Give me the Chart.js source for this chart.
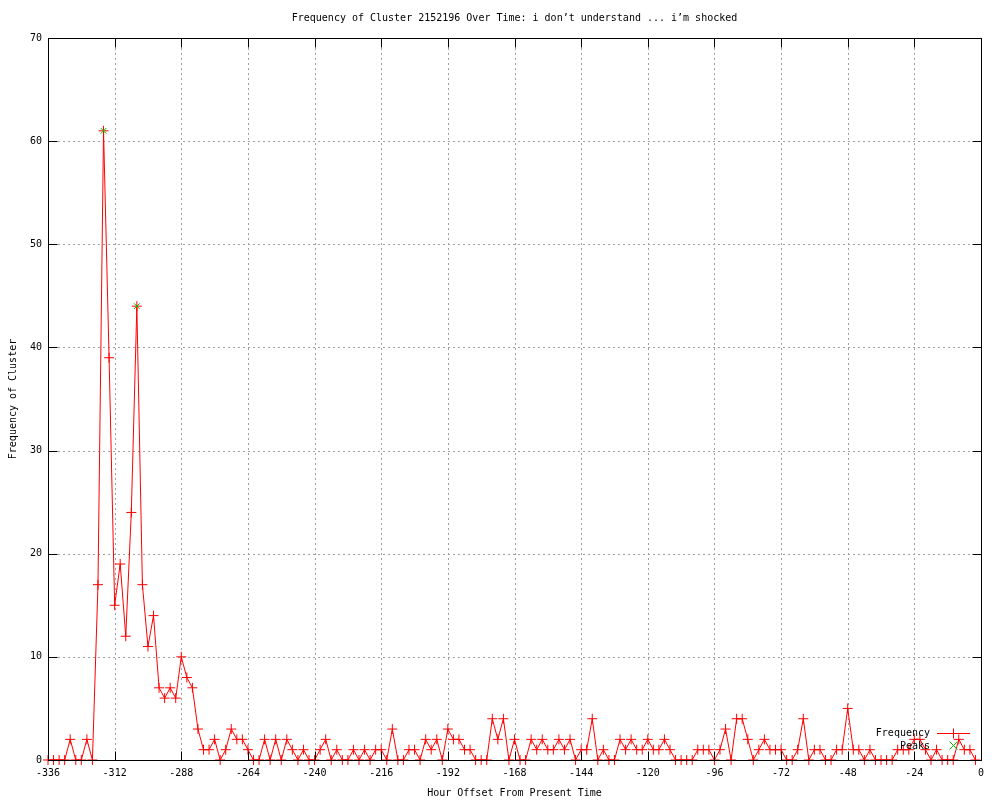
<!DOCTYPE html>
<html>
<head>
<meta charset="utf-8">
<title>Frequency of Cluster 2152196</title>
<script src="https://cdn.jsdelivr.net/npm/chart.js@4.4.0/dist/chart.umd.min.js"></script>
<style>
  html, body { margin: 0; padding: 0; background: #fff; }
  #wrap { width: 1000px; height: 800px; position: relative; }
</style>
</head>
<body>
<div id="wrap"><canvas id="freqChart" width="1000" height="800"></canvas></div>
<script>
/* gnuplot-style frequency plot */

var FONT = 'DejaVu Sans Mono';

var hours = [
  -336, -334, -332, -330, -328, -326, -324, -322, -320, -318,
  -316, -314, -312, -310, -308, -306, -304, -302, -300, -298,
  -296, -294, -292, -290, -288, -286, -284, -282, -280, -278,
  -276, -274, -272, -270, -268, -266, -264, -262, -260, -258,
  -256, -254, -252, -250, -248, -246, -244, -242, -240, -238,
  -236, -234, -232, -230, -228, -226, -224, -222, -220, -218,
  -216, -214, -212, -210, -208, -206, -204, -202, -200, -198,
  -196, -194, -192, -190, -188, -186, -184, -182, -180, -178,
  -176, -174, -172, -170, -168, -166, -164, -162, -160, -158,
  -156, -154, -152, -150, -148, -146, -144, -142, -140, -138,
  -136, -134, -132, -130, -128, -126, -124, -122, -120, -118,
  -116, -114, -112, -110, -108, -106, -104, -102, -100, -98,
  -96, -94, -92, -90, -88, -86, -84, -82, -80, -78,
  -76, -74, -72, -70, -68, -66, -64, -62, -60, -58,
  -56, -54, -52, -50, -48, -46, -44, -42, -40, -38,
  -36, -34, -32, -30, -28, -26, -24, -22, -20, -18,
  -16, -14, -12, -10, -8, -6, -4, -2
];

var frequency = [
  0, 0, 0, 0, 2, 0, 0, 2, 0, 17,
  61, 39, 15, 19, 12, 24, 44, 17, 11, 14,
  7, 6, 7, 6, 10, 8, 7, 3, 1, 1,
  2, 0, 1, 3, 2, 2, 1, 0, 0, 2,
  0, 2, 0, 2, 1, 0, 1, 0, 0, 1,
  2, 0, 1, 0, 0, 1, 0, 1, 0, 1,
  1, 0, 3, 0, 0, 1, 1, 0, 2, 1,
  2, 0, 3, 2, 2, 1, 1, 0, 0, 0,
  4, 2, 4, 0, 2, 0, 0, 2, 1, 2,
  1, 1, 2, 1, 2, 0, 1, 1, 4, 0,
  1, 0, 0, 2, 1, 2, 1, 1, 2, 1,
  1, 2, 1, 0, 0, 0, 0, 1, 1, 1,
  0, 1, 3, 0, 4, 4, 2, 0, 1, 2,
  1, 1, 1, 0, 0, 1, 4, 0, 1, 1,
  0, 0, 1, 1, 5, 1, 1, 0, 1, 0,
  0, 0, 0, 1, 1, 1, 2, 2, 1, 0,
  1, 0, 0, 0, 2, 1, 1, 0
];

var peakHours = [-316, -304];
var peakValues = [61, 44];

var xTicks = [-336, -312, -288, -264, -240, -216, -192, -168, -144, -120, -96, -72, -48, -24, 0];
var yTicks = [0, 10, 20, 30, 40, 50, 60, 70];

var chartTitle = 'Frequency of Cluster 2152196 Over Time: i don\u2019t understand ... i\u2019m shocked';
var xTitle = 'Hour Offset From Present Time';
var yTitle = 'Frequency of Cluster';

var RED = '#ff0000';
var GREEN = '#00c000';

function toPoints(xs, ys) {
  return xs.map(function (x, i) { return { x: x, y: ys[i] }; });
}

function drawPlus(ctx, x, y, r) {
  ctx.beginPath();
  ctx.moveTo(x - r, y); ctx.lineTo(x + r, y);
  ctx.moveTo(x, y - r); ctx.lineTo(x, y + r);
  ctx.stroke();
}

function drawX(ctx, x, y, r) {
  ctx.beginPath();
  ctx.moveTo(x - r, y - r); ctx.lineTo(x + r, y + r);
  ctx.moveTo(x - r, y + r); ctx.lineTo(x + r, y - r);
  ctx.stroke();
}

// grid, frame, mirrored ticks, titles and key in gnuplot fashion
var gnuplotFrame = {
  id: 'gnuplotFrame',
  beforeDatasetsDraw: function (chart) {
    var ctx = chart.ctx, a = chart.chartArea;
    var xs = chart.scales.x, ys = chart.scales.y;
    ctx.save();
    ctx.strokeStyle = '#a0a0a0';
    ctx.lineWidth = 1;
    ctx.setLineDash([2, 3]);
    xTicks.forEach(function (t) {
      var px = Math.round(xs.getPixelForValue(t)) + 0.5;
      if (px <= a.left + 1 || px >= a.right - 1) return;
      ctx.beginPath(); ctx.moveTo(px, a.top); ctx.lineTo(px, a.bottom); ctx.stroke();
    });
    yTicks.forEach(function (t) {
      var py = Math.round(ys.getPixelForValue(t)) + 0.5;
      if (py <= a.top + 1 || py >= a.bottom - 1) return;
      ctx.beginPath(); ctx.moveTo(a.left, py); ctx.lineTo(a.right, py); ctx.stroke();
    });
    ctx.restore();
  },
  afterDatasetsDraw: function (chart) {
    var ctx = chart.ctx, a = chart.chartArea;
    var xs = chart.scales.x, ys = chart.scales.y;
    var tl = 9;
    ctx.save();
    ctx.setLineDash([]);
    ctx.strokeStyle = '#000';
    ctx.lineWidth = 1;
    var L = Math.round(a.left) + 0.5, R = Math.round(a.right) + 0.5;
    var T = Math.round(a.top) + 0.5, B = Math.round(a.bottom) + 0.5;
    ctx.strokeRect(L, T, R - L, B - T);
    ctx.beginPath();
    xTicks.forEach(function (t) {
      var px = Math.round(xs.getPixelForValue(t)) + 0.5;
      ctx.moveTo(px, B); ctx.lineTo(px, B - tl);
      ctx.moveTo(px, T); ctx.lineTo(px, T + tl);
    });
    yTicks.forEach(function (t) {
      var py = Math.round(ys.getPixelForValue(t)) + 0.5;
      ctx.moveTo(L, py); ctx.lineTo(L + tl, py);
      ctx.moveTo(R, py); ctx.lineTo(R - tl, py);
    });
    ctx.stroke();

    // key
    ctx.font = '10px ' + FONT;
    ctx.fillStyle = '#000';
    ctx.textAlign = 'right';
    ctx.textBaseline = 'middle';
    ctx.fillText('Frequency', 930, 733);
    ctx.fillText('Peaks', 930, 746);
    ctx.strokeStyle = RED;
    ctx.lineWidth = 1;
    ctx.beginPath(); ctx.moveTo(937, 733.5); ctx.lineTo(970, 733.5); ctx.stroke();
    drawPlus(ctx, 953.5, 733.5, 5);
    ctx.strokeStyle = GREEN;
    drawX(ctx, 953.5, 745.5, 4);

    // titles
    ctx.fillStyle = '#000';
    ctx.textAlign = 'center';
    ctx.fillText(chartTitle, (a.left + a.right) / 2, 18);
    ctx.fillText(xTitle, (a.left + a.right) / 2, 793);
    ctx.translate(13, (a.top + a.bottom) / 2);
    ctx.rotate(-Math.PI / 2);
    ctx.fillText(yTitle, 0, 0);
    ctx.restore();
  }
};

var chart = new Chart(document.getElementById('freqChart').getContext('2d'), {
  type: 'line',
  data: {
    datasets: [{
      label: 'Peaks',
      data: toPoints(peakHours, peakValues),
      showLine: false,
      borderColor: GREEN,
      backgroundColor: GREEN,
      pointBorderColor: GREEN,
      pointStyle: 'crossRot',
      pointRadius: 4,
      pointBorderWidth: 1,
      clip: false,
      order: 0
    }, {
      label: 'Frequency',
      data: toPoints(hours, frequency),
      borderColor: RED,
      backgroundColor: RED,
      pointBorderColor: RED,
      pointBackgroundColor: RED,
      borderWidth: 1,
      tension: 0,
      pointStyle: 'cross',
      pointRadius: 5,
      pointBorderWidth: 1,
      clip: false,
      order: 1
    }]
  },
  options: {
    responsive: false,
    animation: false,
    events: [],
    layout: { padding: { left: 0, top: 38, right: 19, bottom: 0 } },
    plugins: {
      legend: { display: false },
      title: { display: false },
      tooltip: { enabled: false }
    },
    scales: {
      x: {
        type: 'linear', min: -336, max: 0,
        afterFit: function (s) { s.height = 40; },
        afterBuildTicks: function (s) { s.ticks = xTicks.map(function (v) { return { value: v }; }); },
        grid: { display: false, drawTicks: false },
        border: { display: false },
        ticks: { color: '#000', padding: 7, maxRotation: 0, autoSkip: false,
          font: { family: FONT, size: 10 },
          callback: function (v) { return String(v); } }
      },
      y: {
        type: 'linear', min: 0, max: 70,
        afterFit: function (s) { s.width = 48; },
        afterBuildTicks: function (s) { s.ticks = yTicks.map(function (v) { return { value: v }; }); },
        grid: { display: false, drawTicks: false },
        border: { display: false },
        ticks: { color: '#000', padding: 6,
          font: { family: FONT, size: 10 },
          callback: function (v) { return String(v); } }
      }
    }
  },
  plugins: [gnuplotFrame]
});
</script>
</body>
</html>
